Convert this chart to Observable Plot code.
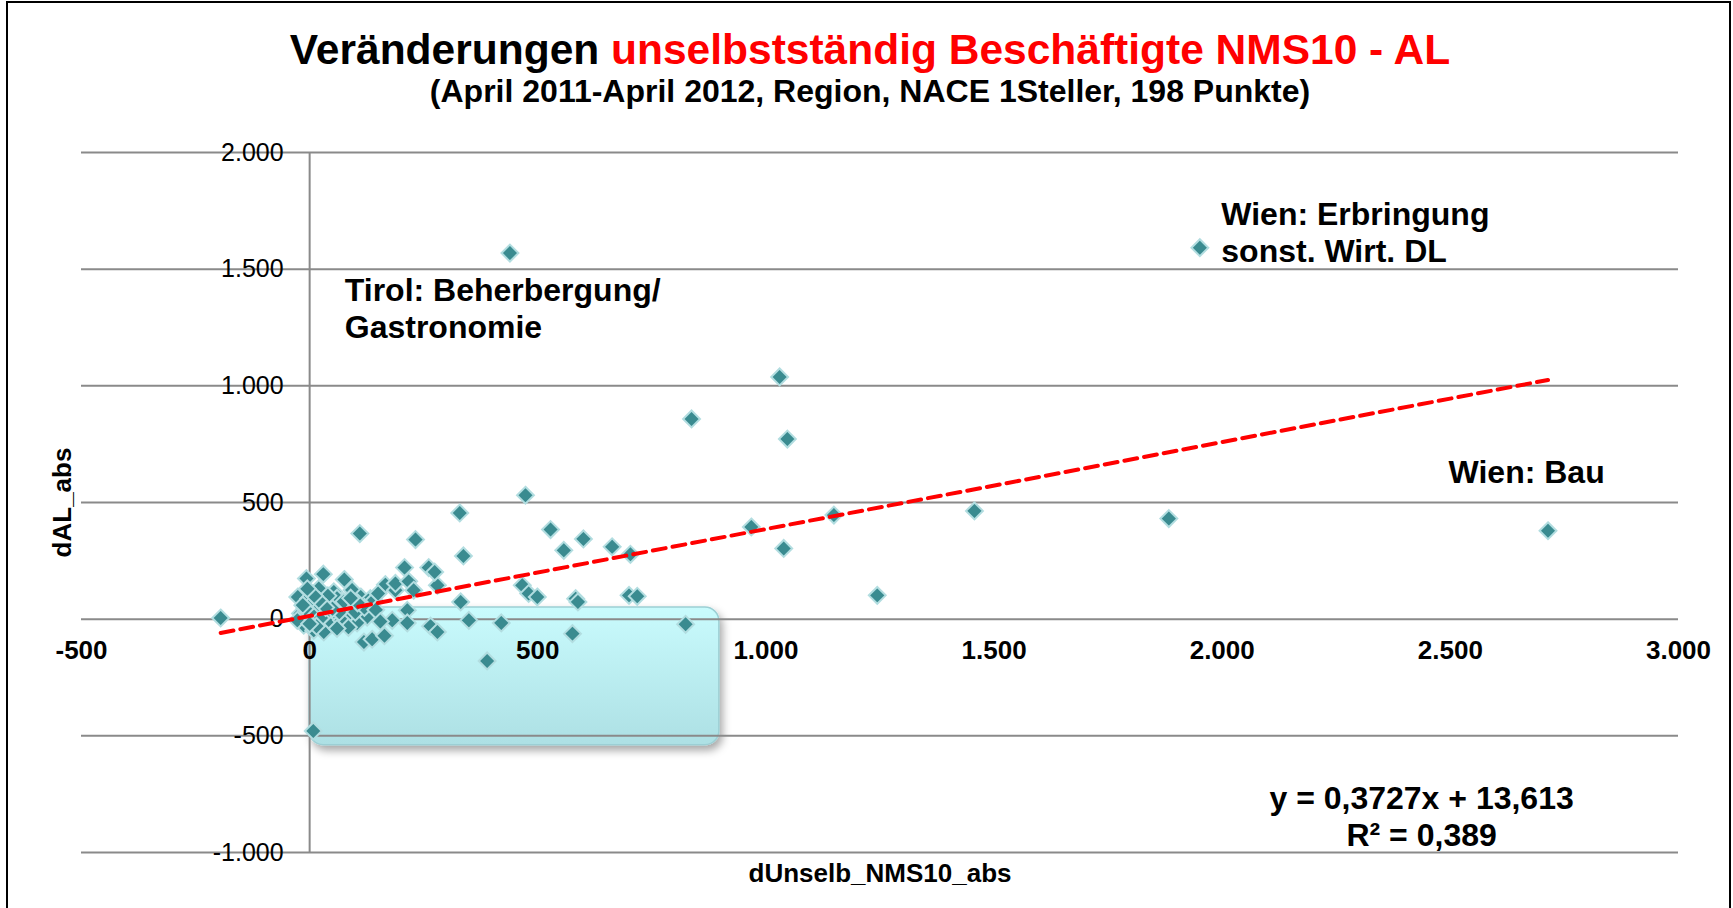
<!DOCTYPE html>
<html><head><meta charset="utf-8">
<script src="https://cdn.jsdelivr.net/npm/d3@7"></script>
<script src="https://cdn.jsdelivr.net/npm/@observablehq/plot@0.6"></script>
<style>
html,body{margin:0;padding:0;background:#fff;}
body{width:1733px;height:908px;overflow:hidden;position:relative;font-family:"Liberation Sans",Arial,sans-serif;}
#frame{position:absolute;left:6px;top:1px;width:1725px;height:940px;border:2px solid #000;box-sizing:border-box;pointer-events:none;z-index:5;}
#title{position:absolute;left:0;width:1740px;top:29px;text-align:center;font-size:42.5px;line-height:42px;font-weight:bold;color:#000;white-space:nowrap;}
#title span{color:#ff0000;}
#subtitle{position:absolute;left:0;width:1740px;top:75px;text-align:center;font-size:32px;line-height:32px;font-weight:bold;color:#000;white-space:nowrap;}
#chart{position:absolute;left:0;top:130px;}
</style>
</head>
<body>
<div id="frame"></div>
<div id="title">Veränderungen <span>unselbstständig Beschäftigte NMS10 - AL</span></div>
<div id="subtitle">(April 2011-April 2012, Region, NACE 1Steller, 198 Punkte)</div>
<div id="chart"></div>
<script>
// ---- data ----
const dUnselb = [-195,-7,30,76,-26,20,-2,53,93,112,133,141,31,57,79,2,17,-20,39,46,82,79,126,104,9,-13,46,9,31,-27,
  119,137,164,110,166,188,188,217,228,280,208,261,274,214,214,181,265,280,232,329,337,331,349,389,420,8,
  473,528,557,600,663,703,466,480,499,583,588,700,718,576,824,968,1039,1149,1244,
  439,1951,1030,837,1047,1457,1883,2714,
  5,-10,25,60,70,95,40,-15,15,65,100,120,85,50,35,75,105,20,0,60,150,145,10,-5,90,155];
const dAL = [5,174,193,170,95,131,88,117,125,95,88,81,74,67,52,60,38,24,24,17,45,9,9,-16,-12,-26,-26,-48,-55,-5,
  -98,-86,-71,367,148,124,153,162,124,145,221,221,202,38,-16,-5,-30,-55,341,455,271,74,-5,-179,-16,-479,
  531,384,295,344,310,278,145,110,95,88,74,102,98,-62,-22,395,303,446,102,
  1569,1592,1038,858,772,464,431,379,
  20,45,5,90,-5,60,100,60,-30,30,30,50,-35,45,50,75,70,80,-20,-40,110,40,100,130,90,-10];

const xTicks = [-500,0,500,1000,1500,2000,2500,3000];
const yTicks = [-1000,-500,0,500,1000,1500,2000];

const slope = 0.3727, intercept = 13.613, r2 = 0.389;

const annotationText = ["Tirol: Beherbergung/\nGastronomie", "Wien: Erbringung\nsonst. Wirt. DL", "Wien: Bau"];
const annotationX = [77, 1998, 2496];
const annotationY = [1335, 1662, 634];

const eqX = 2437, eqY = -841;
const box = {x1: 0, x2: 898, y1: 50, y2: -540};

const xLabel = "dUnselb_NMS10_abs";
const yLabel = "dAL_abs";

// ---- build ----
const de = d3.formatLocale({decimal: ",", thousands: ".", grouping: [3], currency: ["", "€"], minus: "-"});
const fmt = de.format(",");
const points = dUnselb.map((x, i) => ({x, y: dAL[i]}));
const ext = d3.extent(dUnselb);
const trend = ext.map(x => ({x, y: slope * x + intercept}));
const annotations = annotationText.map((t, i) => ({text: t, x: annotationX[i], y: annotationY[i]}));
const eqText = `y = ${de.format(".4f")(slope)}x + ${de.format(".3f")(intercept)}\nR² = ${de.format(".3f")(r2)}`;

const font = "Liberation Sans, Arial, sans-serif";
const svg = Plot.plot({
  width: 1733, height: 778,
  marginLeft: 81, marginRight: 55, marginTop: 22, marginBottom: 56,
  style: {fontFamily: font, background: "transparent", overflow: "visible"},
  x: {domain: [-500, 3000], axis: null},
  y: {domain: [-1000, 2000], axis: null},
  marks: [
    Plot.rect([box], {x1: "x1", x2: "x2", y1: "y1", y2: "y2", rx: 14, fill: "url(#boxGrad)", stroke: "#9ccfd4", strokeWidth: 1.5}),
    Plot.gridY(yTicks, {stroke: "#8a8a8a", strokeOpacity: 1, strokeWidth: 2}),
    Plot.ruleX([0], {stroke: "#8a8a8a", strokeWidth: 2}),
    Plot.text(yTicks, {x: 0, y: d => d, text: d => fmt(d), textAnchor: "end", dx: -26, fontSize: 25, fill: "#000"}),
    Plot.text(xTicks, {x: d => d, y: 0, text: d => fmt(d), dy: 32, fontSize: 26, fontWeight: "bold", fill: "#000"}),
    Plot.dot(points, {x: "x", y: "y", symbol: "diamond2", r: 7.6, fill: "#3a8b90", stroke: "#b2dde0", strokeWidth: 2}),
    Plot.line(trend, {x: "x", y: "y", stroke: "#ff0000", strokeWidth: 4, strokeDasharray: "13,7"}),
    Plot.text(annotations, {x: "x", y: "y", text: "text", textAnchor: "start", fontSize: 32, fontWeight: "bold", lineHeight: 1.15, fill: "#000"}),
    Plot.text([eqText], {x: () => eqX, y: () => eqY, text: d => d, textAnchor: "middle", fontSize: 32, fontWeight: "bold", lineHeight: 1.15, fill: "#000"}),
    Plot.text([xLabel], {frameAnchor: "bottom", text: d => d, textAnchor: "middle", lineAnchor: "middle", dy: 21, fontSize: 26, fontWeight: "bold", fill: "#000"}),
    Plot.text([yLabel], {frameAnchor: "left", text: d => d, textAnchor: "middle", lineAnchor: "middle", rotate: -90, dx: -19, fontSize: 26, fontWeight: "bold", fill: "#000"})
  ]
});
svg.insertAdjacentHTML("afterbegin",
  `<defs>
    <linearGradient id="boxGrad" x1="0" y1="0" x2="0" y2="1">
      <stop offset="0" stop-color="#c9fbfd"/>
      <stop offset="1" stop-color="#ade0e4"/>
    </linearGradient>
    <filter id="boxShadow" x="-10%" y="-10%" width="130%" height="140%">
      <feDropShadow dx="3" dy="5" stdDeviation="4" flood-color="#000" flood-opacity="0.35"/>
    </filter>
  </defs>`);
const r = svg.querySelector('g[aria-label="rect"] rect');
if (r) r.setAttribute("filter", "url(#boxShadow)");
document.getElementById("chart").appendChild(svg);
</script>
</body></html>
